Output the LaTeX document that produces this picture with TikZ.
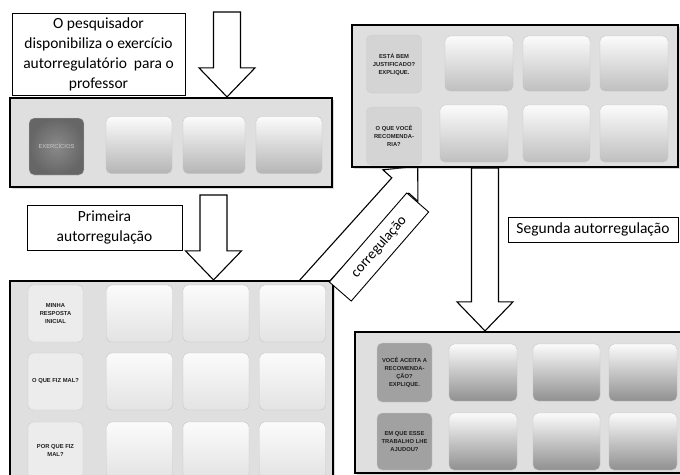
\documentclass[tikz,border=0pt]{standalone}
\usepackage{fontspec}
\setmainfont{Carlito}
\newfontfamily\cuefont{Liberation Sans}
\usetikzlibrary{calc,shadows}

\tikzset{
  panel/.style={draw=black, line width=2.2pt, fill=gray!25, inner sep=0pt,
    drop shadow={shadow xshift=2pt, shadow yshift=-2pt, opacity=.3}},
  tile/.style={rounded corners=5pt, draw=gray!45, line width=.4pt, top color=gray!3,
    bottom color=#1, inner sep=0pt, minimum width=66pt, minimum height=57pt},
  tile/.default=gray!50,
  cue/.style={rounded corners=5pt, draw=gray!40, line width=.4pt, fill=#1, inner sep=1pt,
    minimum width=55pt, minimum height=57pt, align=center, text=gray!25!black,
    font=\cuefont\bfseries\fontsize{5.8}{8}\selectfont},
  cue/.default=gray!34,
  note/.style={draw=black, line width=.9pt, fill=white, inner sep=2pt, align=center,
    font=\fontsize{15.5}{20}\selectfont},
  blockarrow/.style={draw=black, line width=1.1pt, fill=white, line join=miter},
}
\newcommand{\blockdown}[2]{%
  \draw[blockarrow] let \p1=(#1), \p2=(#2) in
    (\x1-13.5pt,\y1) -- (\x1+13.5pt,\y1) -- (\x1+13.5pt,\y2+29pt) -- (\x1+28pt,\y2+29pt)
    -- (\x2,\y2) -- (\x1-28pt,\y2+29pt) -- (\x1-13.5pt,\y2+29pt) -- cycle;}

\begin{document}
\begin{tikzpicture}[x=1pt,y=-1pt]
  \useasboundingbox (0,0) rectangle (680,474);
  \clip (0,0) rectangle (680,474);
  % Arrow: bottom-left panel -> top-right panel
  \coordinate (d0) at (300,297);
  \begin{scope}[shift={(d0)}, rotate=48]
    \draw[blockarrow] (0pt,-11.5pt) -- (150pt,-11.5pt) -- (150pt,-23.5pt) -- (176pt,0pt)
      -- (150pt,23.5pt) -- (150pt,11.5pt) -- (0pt,11.5pt) -- cycle;
  \end{scope}
  % Panels
  \node[panel, minimum width=322pt, minimum height=89pt] (p1) at (171,142.5) {};
  \node[panel, minimum width=323pt, minimum height=203pt] (p2) at (171.5,382.5) {};
  \node[panel, minimum width=326pt, minimum height=142pt] (p3) at (515,96) {};
  \node[panel, minimum width=329pt, minimum height=141pt] (p4) at (519.5,402.5) {};
  % Panel 1: exercises
  \node[cue, inner color=gray!92, outer color=gray!80!black, text=gray!40,
    font=\cuefont\fontsize{5.8}{8}\selectfont] (p1q) at (56.5,146.5) {EXERCÍCIOS};
  \node[tile=gray!58, minimum width=66pt] (p1a) at (139,145) {};
  \node[tile=gray!58, minimum width=62pt] (p1b) at (214,145) {};
  \node[tile=gray!58, minimum width=66pt] (p1c) at (289,145) {};
  % Panel 2: first self-regulation
  \node[cue=gray!15] (p2q1) at (55.5,313.5) {MINHA\\RESPOSTA\\INICIAL};
  \node[cue=gray!15] (p2q2) at (55.5,381.5) {O QUE FIZ MAL?};
  \node[cue=gray!15] (p2q3) at (55.5,450.5) {POR QUE FIZ\\MAL?};
  \node[tile=gray!22] (p2a1) at (139.5,313.5) {};
  \node[tile=gray!22] (p2b1) at (216,313.5) {};
  \node[tile=gray!22] (p2c1) at (292.5,313.5) {};
  \node[tile=gray!22] (p2a2) at (139.5,381.5) {};
  \node[tile=gray!22] (p2b2) at (216,381.5) {};
  \node[tile=gray!22] (p2c2) at (292.5,381.5) {};
  \node[tile=gray!22] (p2a3) at (139.5,450.5) {};
  \node[tile=gray!22] (p2b3) at (216,450.5) {};
  \node[tile=gray!22] (p2c3) at (292.5,450.5) {};
  % Panel 3: co-regulation
  \node[cue=gray!34, minimum height=58pt] (p3q1) at (394,64) {ESTÁ BEM\\JUSTIFICADO?\\EXPLIQUE.};
  \node[cue=gray!34, minimum height=58pt] (p3q2) at (394,136) {O QUE VOCÊ\\RECOMENDA-\\RIA?};
  \node[tile=gray!50, minimum width=68pt, minimum height=55pt] (p3a1) at (479,63.5) {};
  \node[tile=gray!50, minimum width=67pt, minimum height=55pt] (p3b1) at (556.5,63.5) {};
  \node[tile=gray!50, minimum width=68pt, minimum height=55pt] (p3c1) at (634,63.5) {};
  \node[tile=gray!50, minimum width=68pt] (p3a2) at (474,133.5) {};
  \node[tile=gray!50, minimum width=67pt] (p3b2) at (556.5,133.5) {};
  \node[tile=gray!50, minimum width=68pt] (p3c2) at (634,133.5) {};
  % Panel 4: second self-regulation
  \node[cue=gray!74, minimum height=59pt] (p4q1) at (404.5,372.5) {VOCÊ ACEITA A\\RECOMENDA-\\ÇÃO?\\EXPLIQUE.};
  \node[cue=gray!74] (p4q2) at (404.5,441.5) {EM QUE ESSE\\TRABALHO LHE\\AJUDOU?};
  \node[tile=gray!87, minimum width=68pt] (p4a1) at (483,372.5) {};
  \node[tile=gray!87, minimum width=67pt] (p4b1) at (566.5,372.5) {};
  \node[tile=gray!87, minimum width=68pt] (p4c1) at (643,372.5) {};
  \node[tile=gray!87, minimum width=68pt] (p4a2) at (483,441.5) {};
  \node[tile=gray!87, minimum width=67pt] (p4b2) at (566.5,441.5) {};
  \node[tile=gray!87, minimum width=68pt] (p4c2) at (643,441.5) {};
  % Arrows down
  \coordinate (a1s) at (227,12);
  \blockdown{a1s}{a1s |- p1.north}
  \coordinate (a2s) at (213.5,195);
  \blockdown{a2s}{a2s |- p2.north}
  \coordinate (a3s) at (485,0);
  \blockdown{a3s |- p3.south}{a3s |- p4.north}
  % Notes
  \node[note, minimum width=173pt, minimum height=82pt] (n1) at (98.5,54)
    {O pesquisador\\disponibiliza o exercício\\autorregulatório\ \ para o\\professor};
  \node[note, minimum width=155pt, minimum height=45pt] (n2) at (104.5,227.5)
    {Primeira\\autorregulação};
  \node[note, minimum width=170pt, minimum height=25pt] (n3) at (593,229.5)
    {Segunda autorregulação};
  \node[note, rotate=49, minimum width=118pt, minimum height=29pt,
    font=\fontsize{14.5}{16}\selectfont] (n4) at (379,247) {corregulação};
\end{tikzpicture}
\end{document}
